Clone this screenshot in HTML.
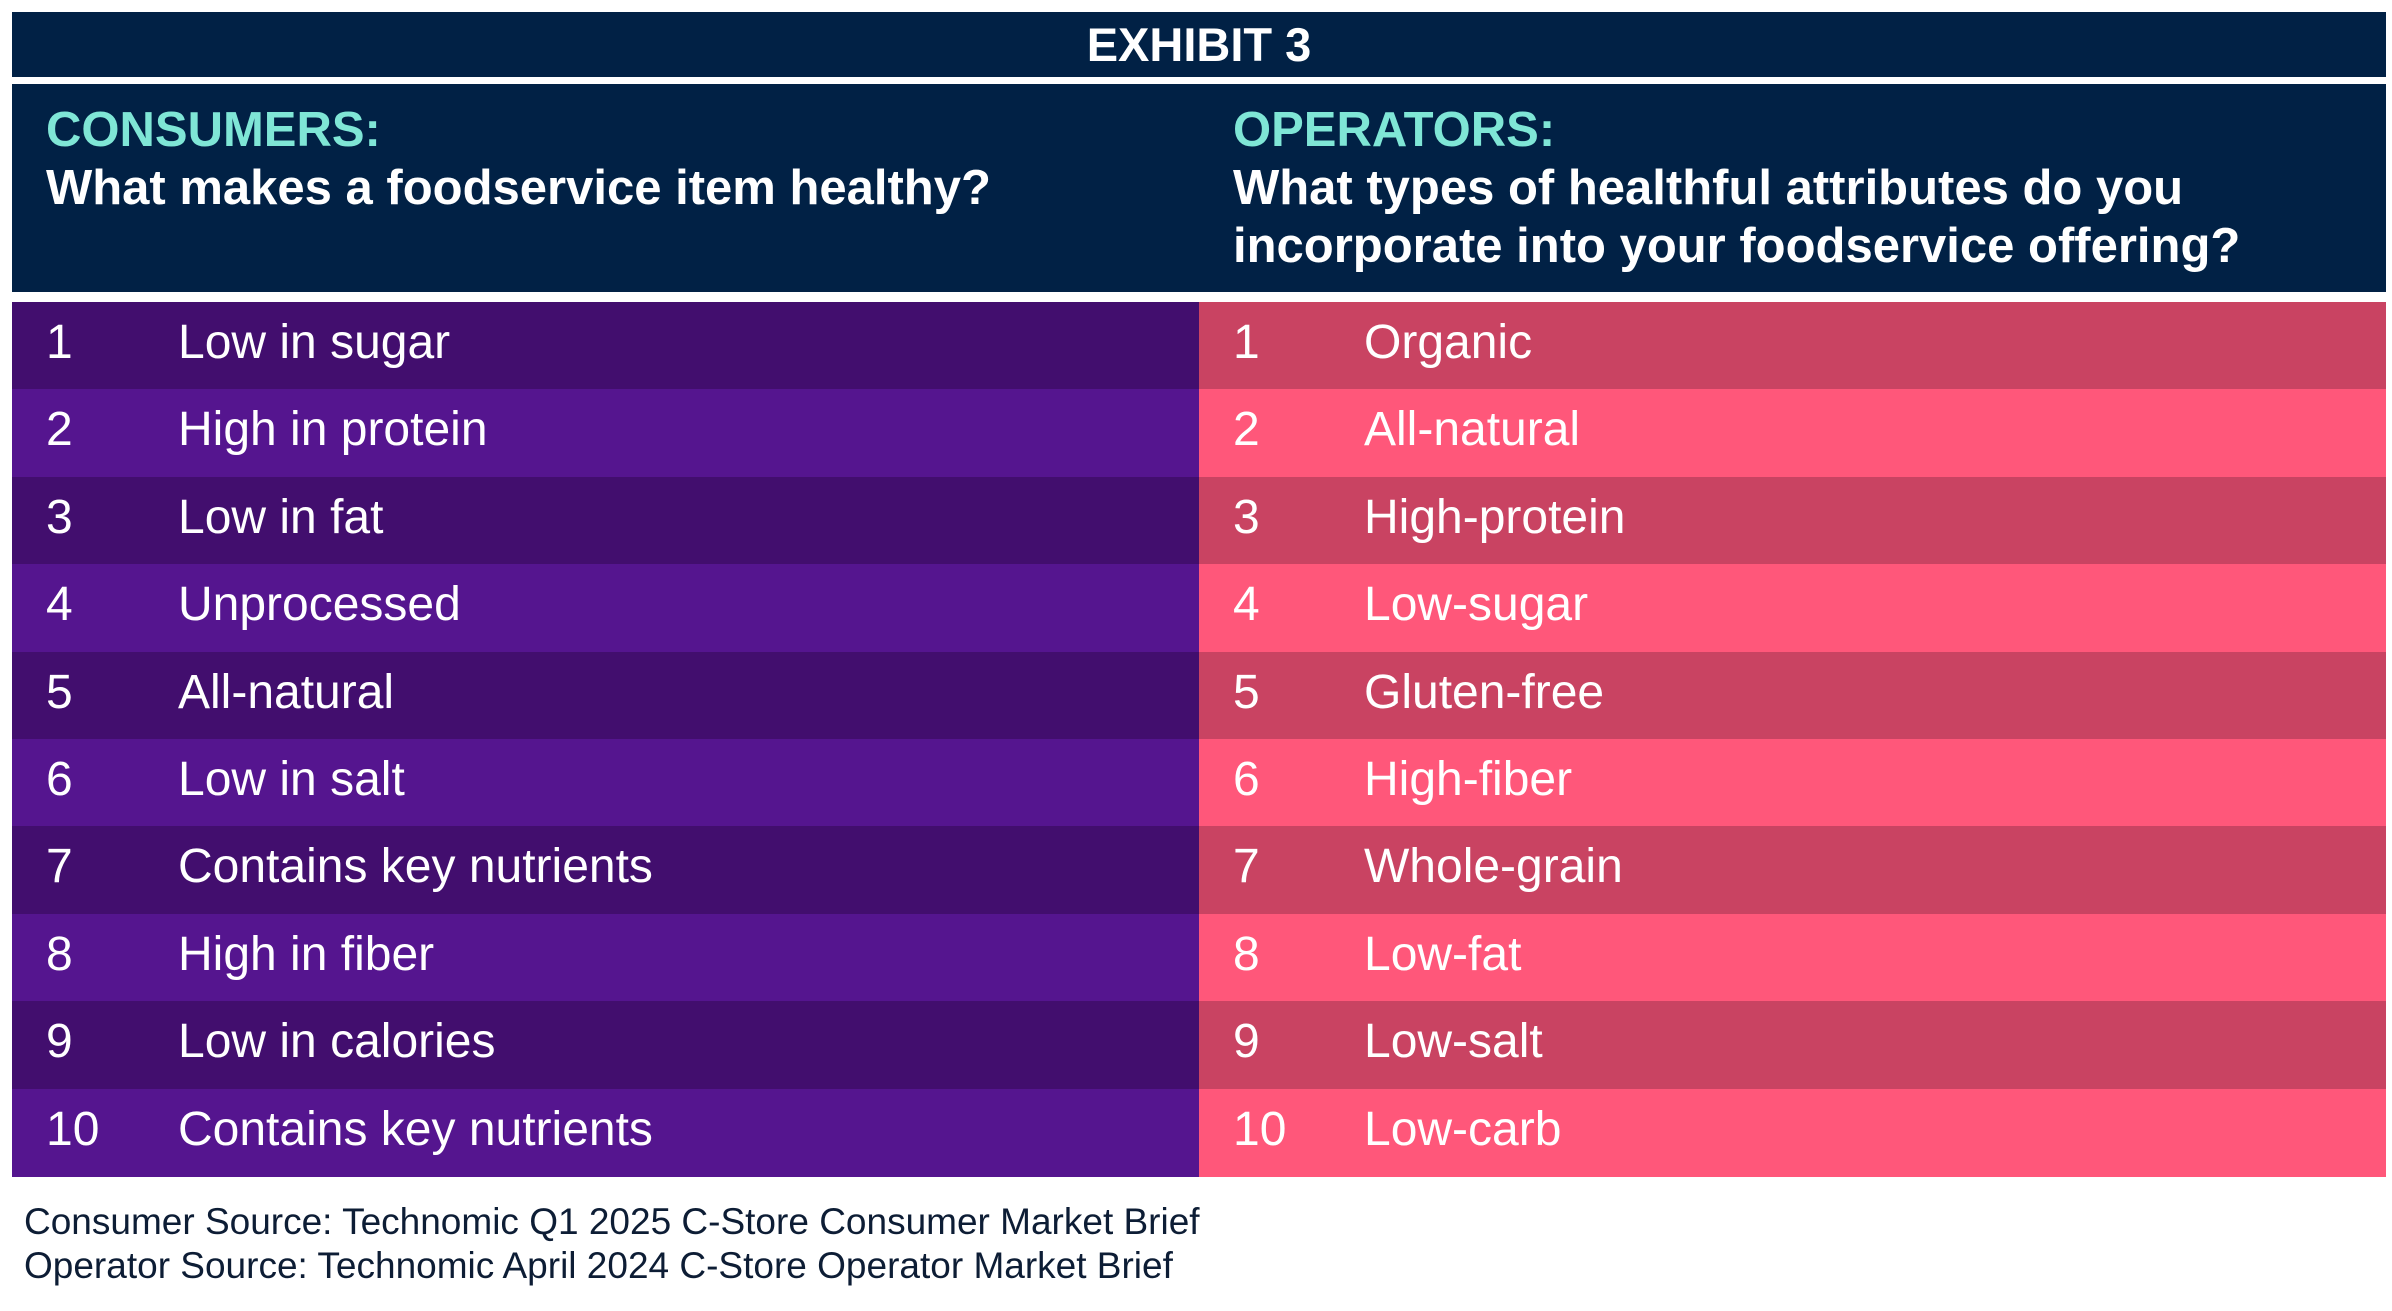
<!DOCTYPE html>
<html><head><meta charset="utf-8"><style>
*{margin:0;padding:0;box-sizing:border-box}
body{width:2392px;height:1311px;background:#fff;position:relative;overflow:hidden;font-family:"Liberation Sans",sans-serif}
.a{position:absolute}
.top{left:12px;top:12px;width:2374px;height:65px;background:#012145;color:#fff;font-weight:bold;font-size:47px;text-align:center;line-height:65px}
.hd{left:12px;top:84px;width:2374px;height:208px;background:#012145}
.h{position:absolute;font-weight:bold;font-size:49px;line-height:58px;color:#fff;white-space:nowrap}
.h .t{color:#7fe6d6}
.row{position:absolute;height:88px;line-height:82px;color:#fff;font-size:48px;white-space:nowrap}
.row span{position:absolute}
.foot{left:24px;color:#0d1d35;font-size:37px;white-space:nowrap}
</style></head><body>
<div class="a top">EXHIBIT 3</div>
<div class="a hd"></div>
<div class="h" style="left:46px;top:101px"><span class="t">CONSUMERS:</span><br>What makes a foodservice item healthy?</div>
<div class="h" style="left:1233px;top:101px"><span class="t">OPERATORS:</span><br>What types of healthful attributes do you<br>incorporate into your foodservice offering?</div>
<div id="rows"></div>
<div class="a foot" style="top:1201px">Consumer Source: Technomic Q1 2025 C-Store Consumer Market Brief</div>
<div class="a foot" style="top:1245px">Operator Source: Technomic April 2024 C-Store Operator Market Brief</div>
<script>
var L=["Low in sugar","High in protein","Low in fat","Unprocessed","All-natural","Low in salt","Contains key nutrients","High in fiber","Low in calories","Contains key nutrients"];
var R=["Organic","All-natural","High-protein","Low-sugar","Gluten-free","High-fiber","Whole-grain","Low-fat","Low-salt","Low-carb"];
var h="";
for(var i=0;i<10;i++){var y=302+i*87.4;var odd=i%2==0;
h+='<div class="row" style="left:12px;top:'+y+'px;width:1187px;height:88px;background:'+(odd?'#420e6e':'#55158f')+'"><span style="left:34px">'+(i+1)+'</span><span style="left:166px">'+L[i]+'</span></div>';
h+='<div class="row" style="left:1199px;top:'+y+'px;width:1187px;height:88px;background:'+(odd?'#c94362':'#ff577a')+'"><span style="left:34px">'+(i+1)+'</span><span style="left:165px">'+R[i]+'</span></div>';}
document.getElementById("rows").innerHTML=h;
</script>
</body></html>
